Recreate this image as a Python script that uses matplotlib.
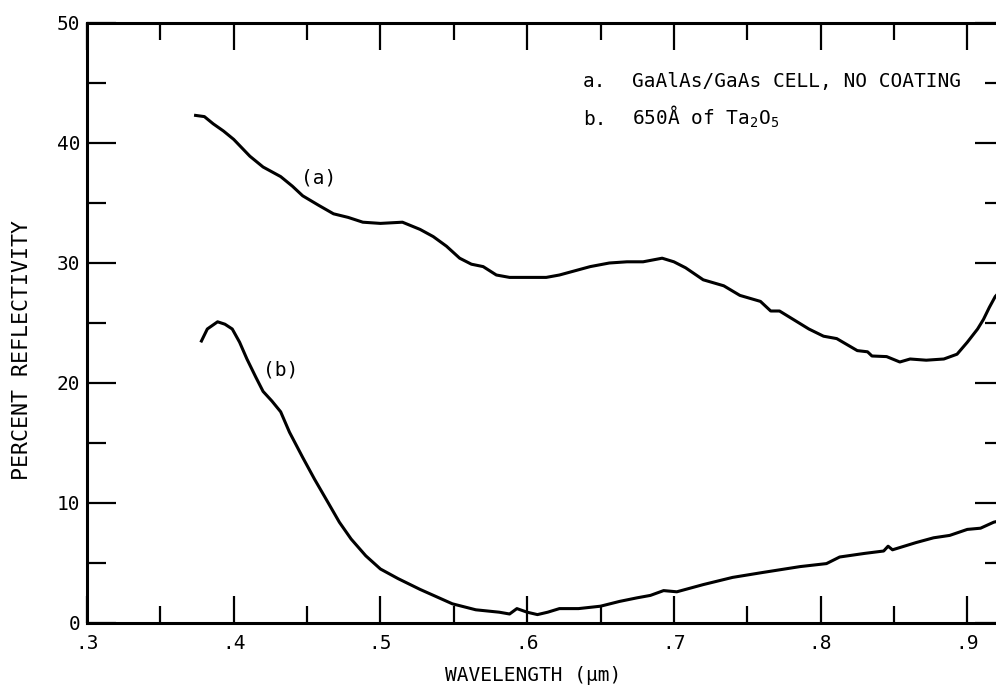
import matplotlib
matplotlib.use("Agg")
import matplotlib.pyplot as plt
from matplotlib.ticker import MultipleLocator, FixedFormatter, FixedLocator

# curve (a): GaAlAs/GaAs cell, no coating
wl_a = [0.374, 0.380, 0.386, 0.393, 0.400, 0.411, 0.420, 0.432, 0.440, 0.447,
        0.458, 0.468, 0.478, 0.488, 0.500, 0.515, 0.527, 0.536, 0.545, 0.554,
        0.562, 0.570, 0.579, 0.588, 0.600, 0.613, 0.622, 0.631, 0.643, 0.656,
        0.668, 0.679, 0.692, 0.700, 0.708, 0.720, 0.734, 0.745, 0.759, 0.766,
        0.772, 0.784, 0.792, 0.802, 0.811, 0.818, 0.825, 0.832, 0.835, 0.845,
        0.854, 0.861, 0.872, 0.884, 0.893, 0.900, 0.907, 0.911, 0.915, 0.919,
        0.925]
refl_a = [42.3, 42.2, 41.6, 41.0, 40.3, 38.9, 38.0, 37.2, 36.4, 35.6,
          34.8, 34.1, 33.8, 33.4, 33.3, 33.4, 32.8, 32.2, 31.4, 30.4,
          29.9, 29.7, 29.0, 28.8, 28.8, 28.8, 29.0, 29.3, 29.7, 30.0,
          30.1, 30.1, 30.4, 30.1, 29.6, 28.6, 28.1, 27.3, 26.8, 26.0,
          26.0, 25.1, 24.5, 23.9, 23.7, 23.2, 22.7, 22.6, 22.25, 22.2,
          21.75, 22.0, 21.9, 22.0, 22.4, 23.4, 24.5, 25.3, 26.3, 27.2,
          28.0]

# curve (b): 650 A of Ta2O5
wl_b = [0.378, 0.382, 0.389, 0.394, 0.399, 0.404, 0.409, 0.415, 0.420, 0.426,
        0.432, 0.438, 0.447, 0.455, 0.464, 0.472, 0.480, 0.490, 0.500, 0.512,
        0.527, 0.538, 0.549, 0.565, 0.581, 0.588, 0.593, 0.600, 0.607, 0.614,
        0.622, 0.635, 0.650, 0.663, 0.675, 0.684, 0.693, 0.702, 0.720, 0.740,
        0.760, 0.786, 0.804, 0.813, 0.830, 0.843, 0.846, 0.849, 0.865, 0.877,
        0.888, 0.900, 0.909, 0.918, 0.925]
refl_b = [23.5, 24.5, 25.1, 24.9, 24.5, 23.4, 22.0, 20.5, 19.3, 18.5,
          17.6, 15.9, 13.8, 12.0, 10.1, 8.4, 7.0, 5.6, 4.5, 3.7,
          2.8, 2.2, 1.6, 1.1, 0.9, 0.75, 1.2, 0.9, 0.7, 0.9,
          1.2, 1.2, 1.4, 1.8, 2.1, 2.3, 2.7, 2.6, 3.2, 3.8,
          4.2, 4.7, 4.95, 5.5, 5.8, 6.0, 6.4, 6.1, 6.7, 7.1,
          7.3, 7.8, 7.9, 8.4, 8.6]

x_ticks = [0.3, 0.4, 0.5, 0.6, 0.7, 0.8, 0.9]
x_labels = [".3", ".4", ".5", ".6", ".7", ".8", ".9"]

plt.rcParams["font.family"] = ["DejaVu Sans Mono"]
plt.rcParams["mathtext.fontset"] = "custom"
plt.rcParams["mathtext.rm"] = "DejaVu Sans Mono"
plt.rcParams["mathtext.it"] = "DejaVu Sans Mono"

fig = plt.figure(figsize=(9.96, 6.93), dpi=100)
ax = fig.add_axes([87 / 996, 70 / 693, 917 / 996, 600 / 693])

ax.plot(wl_a, refl_a, color="black", lw=2.2)
ax.plot(wl_b, refl_b, color="black", lw=2.2)

ax.set_xlim(0.3, 0.925)
ax.set_ylim(0, 50)

ax.xaxis.set_major_locator(FixedLocator(x_ticks))
ax.xaxis.set_major_formatter(FixedFormatter(x_labels))
ax.xaxis.set_minor_locator(MultipleLocator(0.05))
ax.yaxis.set_major_locator(MultipleLocator(10))
ax.yaxis.set_minor_locator(MultipleLocator(5))

ax.tick_params(which="both", direction="in", top=True, right=True,
               width=1.6, labelsize=14, colors="black")
ax.tick_params(axis="x", which="major", length=19.5, pad=8)
ax.tick_params(axis="x", which="minor", length=12)
ax.tick_params(axis="y", which="major", length=21, pad=5)
ax.tick_params(axis="y", which="minor", length=13.5)
for s in ax.spines.values():
    s.set_linewidth(2.2)

# the "0" sits a little above the baseline in the original
ax.get_yticklabels()[0].set_va("bottom")

ax.set_xlabel("WAVELENGTH (μm)", fontsize=14)
ax.xaxis.set_label_coords(0.486, -0.072)
ax.set_ylabel("PERCENT REFLECTIVITY", fontsize=15.5)
ax.yaxis.set_label_coords(-0.06, 0.455)

ax.text(0.458, 37.1, "(a)", fontsize=14, ha="center", va="center")
ax.text(0.432, 21.1, "(b)", fontsize=14, ha="center", va="center")

ax.text(0.638, 44.7, "a.", fontsize=14, ha="left", va="baseline")
ax.text(0.6715, 44.7, "GaAlAs/GaAs CELL, NO COATING", fontsize=14,
        ha="left", va="baseline")
ax.text(0.638, 41.5, "b.", fontsize=14, ha="left", va="baseline")
ax.text(0.6715, 41.5, "650Å of Ta$_2$O$_5$", fontsize=14,
        ha="left", va="baseline")

fig.savefig("out.png", dpi=100)
